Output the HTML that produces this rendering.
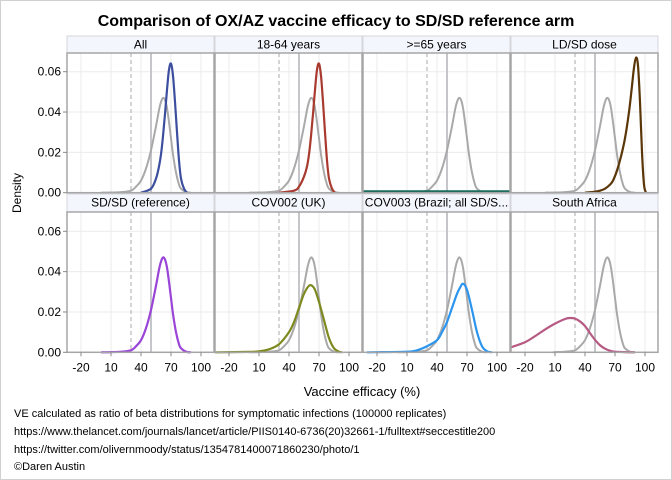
<!DOCTYPE html>
<html><head><meta charset="utf-8">
<style>
html,body{margin:0;padding:0;background:#fff;}
svg{display:block;font-family:"Liberation Sans",Arial,sans-serif;}
</style></head>
<body>
<svg id="chart" width="672" height="480" viewBox="0 0 672 480">
<rect x="0.5" y="0.5" width="671" height="479" fill="#fff" stroke="#d0d0d0"/>
<text x="336" y="26" text-anchor="middle" font-size="16" font-weight="bold" fill="#000">Comparison of OX/AZ vaccine efficacy to SD/SD reference arm</text>
<text transform="translate(21,193) rotate(-90)" text-anchor="middle" font-size="12" fill="#000">Density</text>
<text x="362" y="396" text-anchor="middle" font-size="13" fill="#000">Vaccine efficacy (%)</text>
<g font-size="11" fill="#000">
<text x="14" y="417">VE calculated as ratio of beta distributions for symptomatic infections (100000 replicates)</text>
<text x="14" y="435">https://www.thelancet.com/journals/lancet/article/PIIS0140-6736(20)32661-1/fulltext#seccestitle200</text>
<text x="14" y="453">https://twitter.com/olivernmoody/status/1354781400071860230/photo/1</text>
<text x="14" y="470">©Daren Austin</text>
</g>
<g id="panels"></g>
</svg>
<script>
// ---- data ----
const panelTitles = ["All","18-64 years",">=65 years","LD/SD dose","SD/SD (reference)","COV002 (UK)","COV003 (Brazil; all SD/S...","South Africa"];
const panelColors = ["#3c4f9e","#a93a2f","#17695b","#5a3608","#9a44d8","#7e8a1f","#2b95ee","#b65a84"];
const xTicks = [-20,10,40,70,100];
const yTicks = [0,0.02,0.04,0.06];
const yTickLabels = ["0.00","0.02","0.04","0.06"];
// reference SD/SD density (gray)
const refX = [0,10,20,30,35,40,45,50,55,58,60,62,64,66,68,70,72,75,78,80,85,90];
const refY = [0,0.0001,0.0003,0.001,0.003,0.006,0.012,0.021,0.033,0.041,0.045,0.047,0.046,0.042,0.035,0.027,0.019,0.010,0.004,0.002,0.0003,0];
const allX = [40,50,55,58,60,62,64,66,68,70,72,74,76,78,80,83,86];
const allY = [0,0.002,0.007,0.013,0.019,0.028,0.039,0.051,0.061,0.064,0.058,0.045,0.030,0.016,0.007,0.002,0];
const youngX = [30,45,50,55,58,60,62,64,66,68,70,72,74,76,78,80,83,86];
const youngY = [0,0.001,0.003,0.008,0.013,0.019,0.028,0.039,0.051,0.061,0.064,0.058,0.045,0.030,0.016,0.007,0.002,0];
const oldX = [-34,113];
const oldY = [0.0005,0.0005];
const ldX = [40,50,55,60,65,68,72,76,80,84,87,89,91,93,95,97,99,101];
const ldY = [0,0.0005,0.001,0.002,0.004,0.006,0.011,0.018,0.027,0.040,0.053,0.062,0.067,0.063,0.045,0.020,0.004,0];
const brX = [-30,10,20,30,40,45,50,55,60,63,66,70,75,80,85,90,95];
const brY = [0,0.0003,0.001,0.003,0.006,0.010,0.015,0.022,0.029,0.032,0.034,0.031,0.021,0.010,0.003,0.0005,0];
const ukX = [-34,0,10,20,30,40,45,50,55,60,63,66,70,75,80,85,90,93];
const ukY = [0,0.0002,0.0005,0.0015,0.004,0.010,0.015,0.022,0.029,0.033,0.033,0.031,0.025,0.016,0.007,0.002,0.0003,0];
const saX = [-34,-20,-10,0,10,20,25,30,35,40,45,50,55,60,65,70,80,90];
const saY = [0.0025,0.005,0.008,0.0113,0.0142,0.0165,0.017,0.0167,0.0153,0.013,0.0095,0.0062,0.0035,0.0018,0.0008,0.0003,0.0001,0];
const saRefX = [8,10,20,30,35,40,45,50,55,58,60,62,64,66,68,70,72,75,78,80,85,90];
const panelSeriesX = [allX,youngX,oldX,ldX,refX,ukX,brX,saX];
const panelSeriesY = [allY,youngY,oldY,ldY,refY,ukY,brY,saY];

// ---- layout ----
const NS="http://www.w3.org/2000/svg";
const colLeft=[67,215,363,511], panelW=147;
const rows=[{hTop:36,pTop:53,y0:192.7},{hTop:194,pTop:212,y0:352.3}];
const xMin=-34;
const pxPerY=121/0.06;
const root=document.getElementById('panels');
function mk(tag,attrs,parent){const e=document.createElementNS(NS,tag);for(const k in attrs)e.setAttribute(k,attrs[k]);parent.appendChild(e);return e;}
function spline(pts){
  let d="M"+pts[0][0].toFixed(2)+","+pts[0][1].toFixed(2);
  for(let i=0;i<pts.length-1;i++){
    const p0=pts[Math.max(i-1,0)],p1=pts[i],p2=pts[i+1],p3=pts[Math.min(i+2,pts.length-1)];
    const t=1/6;
    const c1=[p1[0]+(p2[0]-p0[0])*t,p1[1]+(p2[1]-p0[1])*t];
    const c2=[p2[0]-(p3[0]-p1[0])*t,p2[1]-(p3[1]-p1[1])*t];
    d+=" C"+c1[0].toFixed(2)+","+c1[1].toFixed(2)+" "+c2[0].toFixed(2)+","+c2[1].toFixed(2)+" "+p2[0].toFixed(2)+","+p2[1].toFixed(2);
  }
  return d;
}
for(let p=0;p<8;p++){
  const r=rows[Math.floor(p/4)], c=p%4, L=colLeft[c];
  const xs=v=>L+(v-xMin);
  const ys=v=>r.y0-v*pxPerY;
  const g=mk('g',{},root);
  
  
  const hdr=mk('rect',{x:L,y:r.hTop,width:panelW,height:r.pTop-r.hTop,fill:'#f4f6fd',stroke:'#d4d6dc','stroke-width':1},g);
  
  
  const ht=mk('text',{x:L+panelW/2,y:r.hTop+12.5,'text-anchor':'middle','font-size':12,fill:'#000'},g);
  ht.textContent=panelTitles[p];
  
  
  // grid
  yTicks.forEach(v=>{if(v>0){const gl=mk('line',{x1:L,x2:L+panelW,y1:ys(v),y2:ys(v),stroke:'#ebebeb','stroke-width':1},g);
    
    }});
  xTicks.forEach(v=>{const gl=mk('line',{x1:xs(v),x2:xs(v),y1:r.pTop,y2:r.y0,stroke:'#ebebeb','stroke-width':1},g);
    
    });
  const dl=mk('line',{x1:xs(30),x2:xs(30),y1:r.pTop,y2:r.y0,stroke:'#b8b8b8','stroke-width':1.2,'stroke-dasharray':'4,3'},g);
  
  
  const sl=mk('line',{x1:xs(50),x2:xs(50),y1:r.pTop,y2:r.y0,stroke:'#c4c6ca','stroke-width':2},g);
  
  
  // reference curve
  if(p!==4){
    const rx = p===7?saRefX:refX;
    const ref=mk('path',{d:spline(rx.map((v,i)=>[xs(v),ys(refY[i])])),fill:'none',stroke:'#a9a9a9','stroke-width':2},g);
    
    
  }
  const sx=panelSeriesX[p], sy=panelSeriesY[p];
  const cur=mk('path',{d:spline(sx.map((v,i)=>[xs(v),ys(sy[i])])),fill:'none',stroke:panelColors[p],'stroke-width':p===2?3:2.2},g);
  
  
  const fr=mk('rect',{x:L,y:r.pTop,width:panelW,height:r.y0-r.pTop,fill:'none',stroke:'#a6a6a6','stroke-width':1.5},g);
  
  
  // y axis labels
  if(c===0){
    yTicks.forEach((v,i)=>{
      const tk=mk('line',{x1:L-4,x2:L,y1:ys(v),y2:ys(v),stroke:'#888'},g);
      
      
      const t=mk('text',{x:L-6,y:ys(v)+4,'text-anchor':'end','font-size':12,fill:'#000'},g);
      t.textContent=yTickLabels[i];
      
      
    });
  }
  if(p>=4){
    xTicks.forEach(v=>{
      const tk=mk('line',{x1:xs(v),x2:xs(v),y1:r.y0,y2:r.y0+4,stroke:'#888'},g);
      
      
      const t=mk('text',{x:xs(v),y:r.y0+19,'text-anchor':'middle','font-size':12,fill:'#000'},g);
      t.textContent=String(v);
      
      
    });
  }
}
</script>
</body></html>
